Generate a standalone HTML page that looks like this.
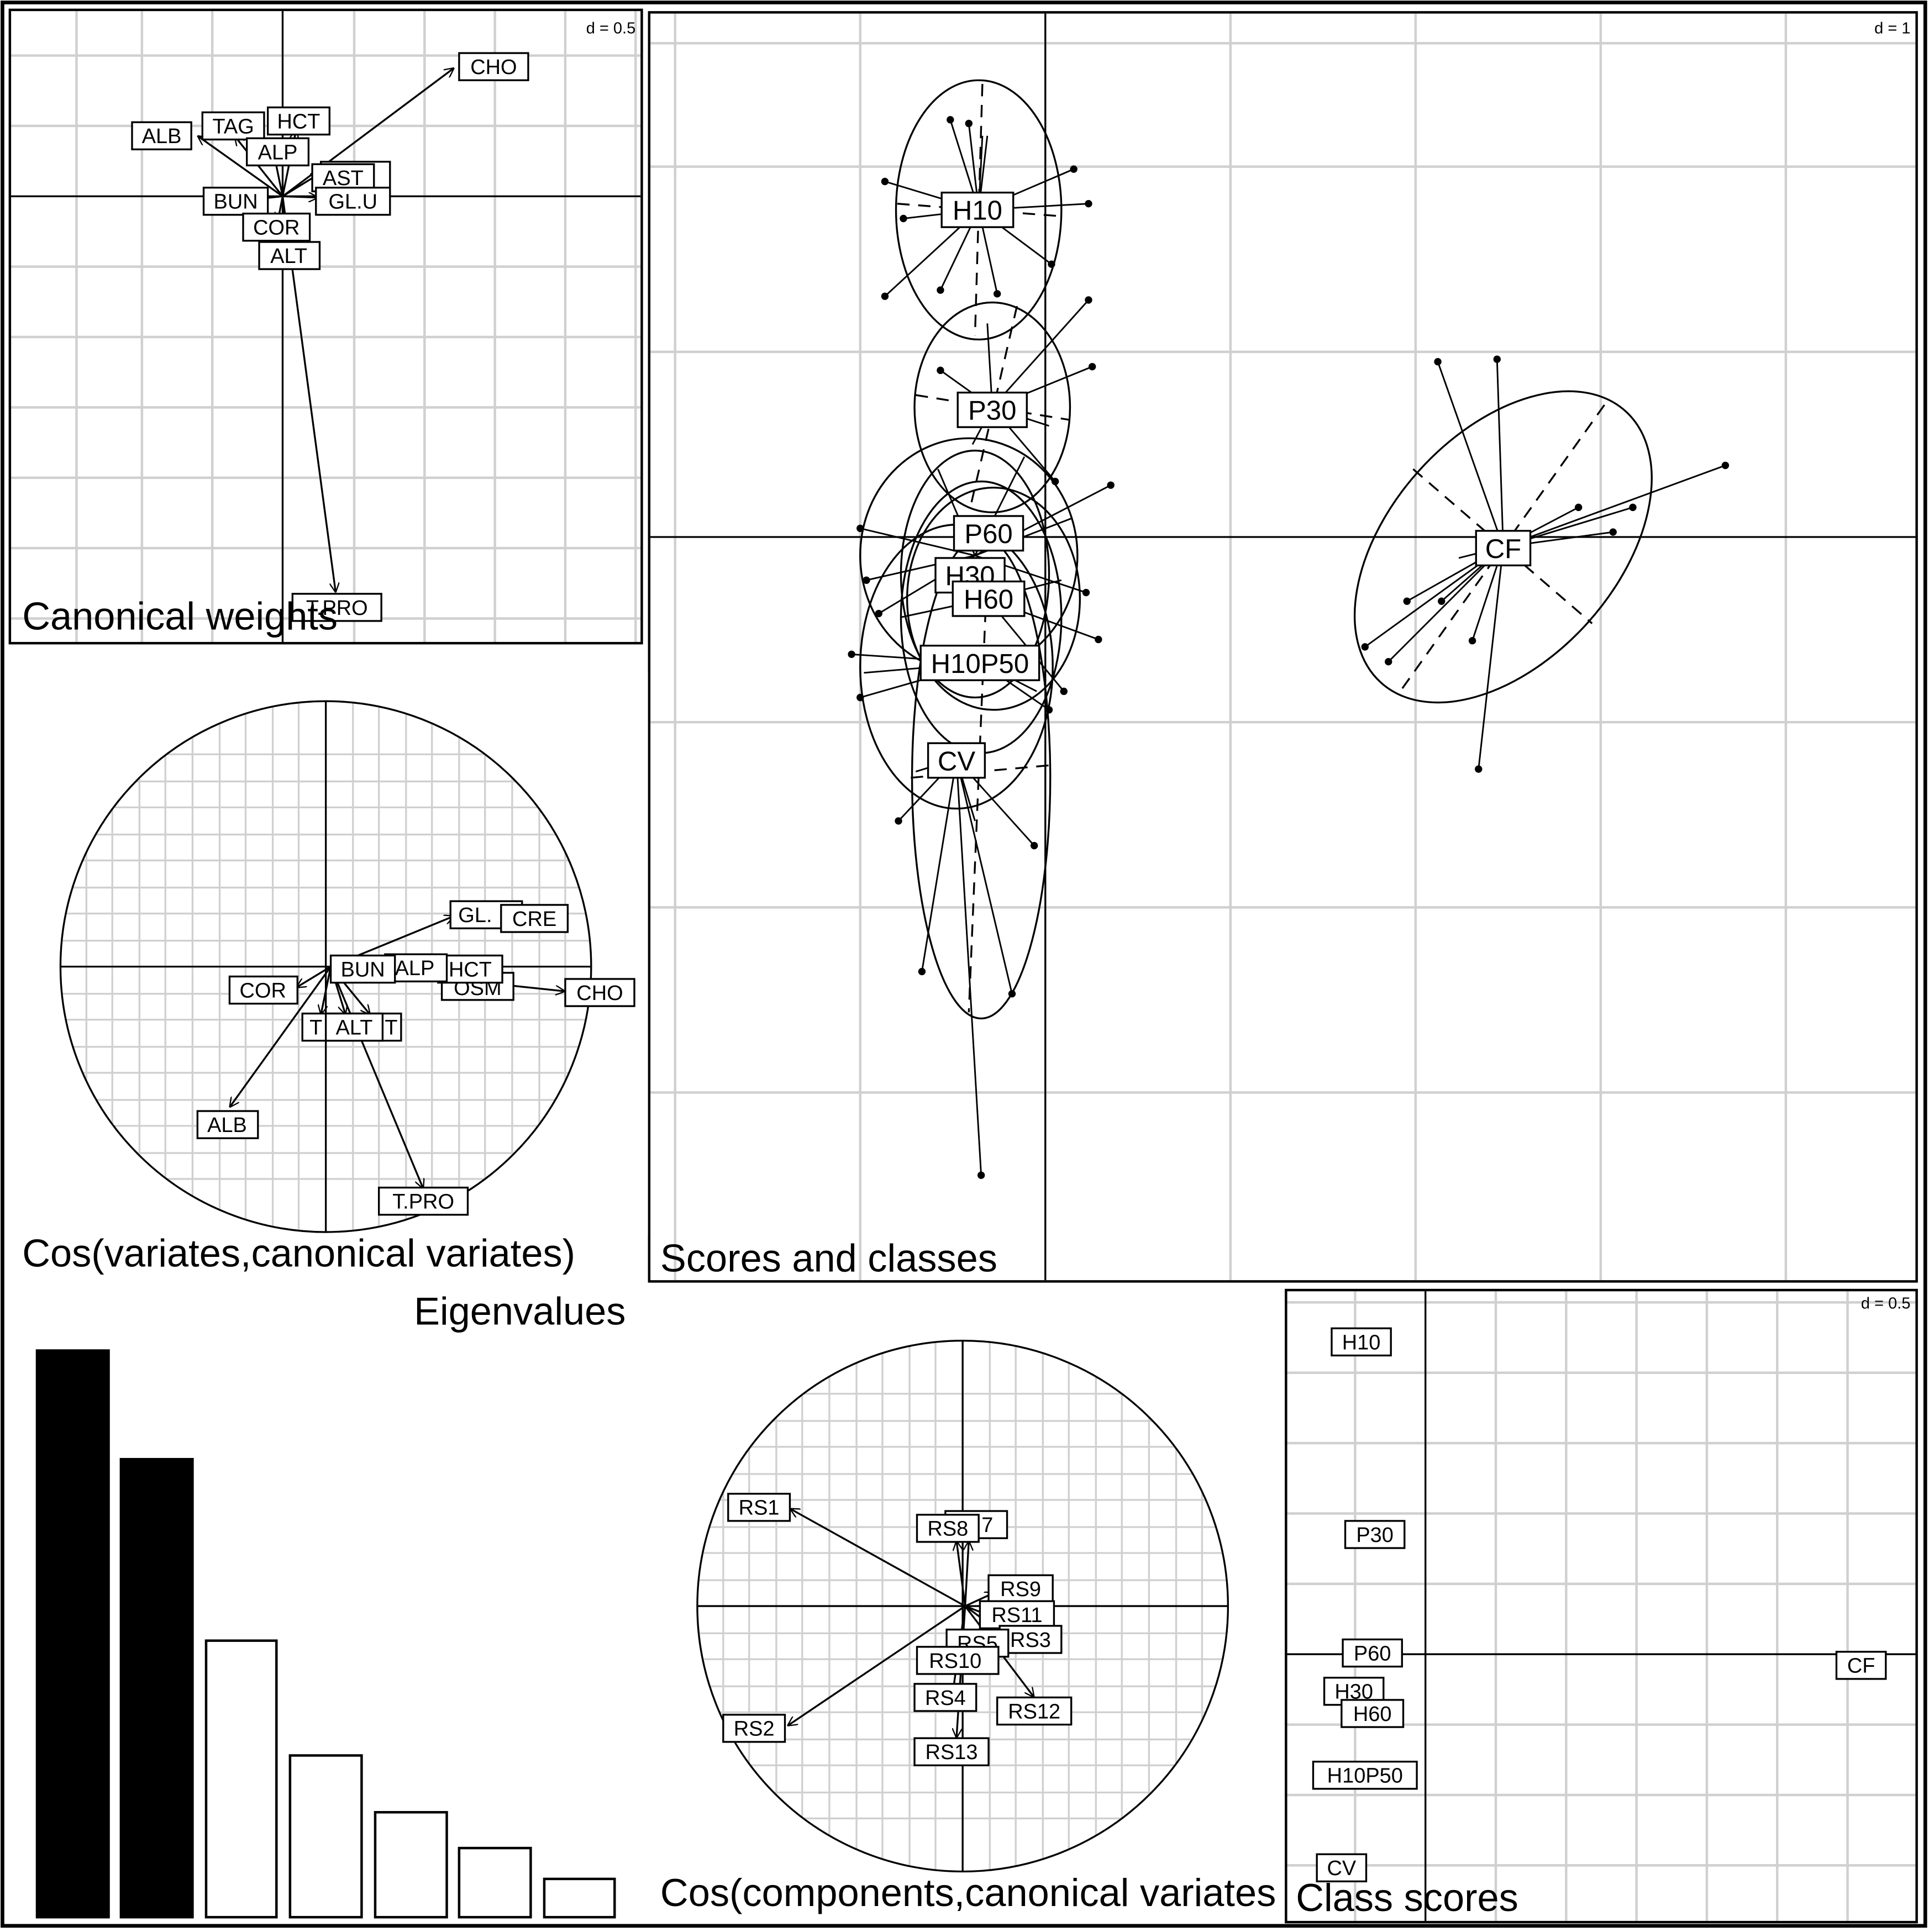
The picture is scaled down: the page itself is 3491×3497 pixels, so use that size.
<!DOCTYPE html>
<html><head><meta charset="utf-8"><style>
html,body{margin:0;padding:0;background:#fff}
svg{display:block}
text{font-family:"Liberation Sans",sans-serif;fill:#000}
</style></head><body>
<svg width="3491" height="3497" viewBox="0 0 1563 1565" preserveAspectRatio="none" xmlns="http://www.w3.org/2000/svg">
<defs>
<marker id="ah" viewBox="0 0 10 10" refX="10" refY="5" markerWidth="8" markerHeight="8" orient="auto" markerUnits="userSpaceOnUse"><path d="M0,0 L10,5 L0,10" fill="none" stroke="#000" stroke-width="1.3"/></marker>
</defs>
<rect x="0" y="0" width="1563" height="1565" fill="#fff"/>
<rect x="2" y="2" width="1558" height="1558" fill="none" stroke="#000" stroke-width="3"/>

<!-- Panel 1: Canonical weights -->
<g stroke="#d0d0d0" stroke-width="2">
<line x1="62" y1="9" x2="62" y2="520"/><line x1="115" y1="9" x2="115" y2="520"/><line x1="172" y1="9" x2="172" y2="520"/><line x1="287" y1="9" x2="287" y2="520"/><line x1="344" y1="9" x2="344" y2="520"/><line x1="401" y1="9" x2="401" y2="520"/><line x1="458" y1="9" x2="458" y2="520"/><line x1="515" y1="9" x2="515" y2="520"/>
<line x1="9" y1="45" x2="519" y2="45"/><line x1="9" y1="102" x2="519" y2="102"/><line x1="9" y1="216" x2="519" y2="216"/><line x1="9" y1="273" x2="519" y2="273"/><line x1="9" y1="330" x2="519" y2="330"/><line x1="9" y1="387" x2="519" y2="387"/><line x1="9" y1="444" x2="519" y2="444"/><line x1="9" y1="501" x2="519" y2="501"/>
</g>
<line x1="229" y1="9" x2="229" y2="520" stroke="#000" stroke-width="1.5"/>
<line x1="9" y1="159" x2="519" y2="159" stroke="#000" stroke-width="1.5"/>
<rect x="8" y="8" width="512" height="513" fill="none" stroke="#000" stroke-width="2"/>
<g stroke="#000" stroke-width="1.5" marker-end="url(#ah)">
<line x1="229" y1="159" x2="368" y2="55"/>
<line x1="229" y1="159" x2="160" y2="110"/>
<line x1="229" y1="159" x2="190" y2="110"/>
<line x1="229" y1="159" x2="240" y2="105"/>
<line x1="229" y1="159" x2="222" y2="125"/>
<line x1="229" y1="159" x2="260" y2="140"/>
<line x1="229" y1="159" x2="258" y2="160"/>
<line x1="229" y1="159" x2="200" y2="162"/>
<line x1="229" y1="159" x2="225" y2="180"/>
<line x1="229" y1="159" x2="233" y2="200"/>
<line x1="229" y1="159" x2="272" y2="480"/>
</g>
<g font-size="17" text-anchor="middle">
<rect x="372" y="43" width="56" height="22" fill="#fff" stroke="#000" stroke-width="1.5"/><text x="400" y="60">CHO</text>
<rect x="107" y="99" width="48" height="22" fill="#fff" stroke="#000" stroke-width="1.5"/><text x="131" y="116">ALB</text>
<rect x="164" y="91" width="50" height="22" fill="#fff" stroke="#000" stroke-width="1.5"/><text x="189" y="108">TAG</text>
<rect x="217" y="87" width="50" height="22" fill="#fff" stroke="#000" stroke-width="1.5"/><text x="242" y="104">HCT</text>
<rect x="200" y="112" width="50" height="22" fill="#fff" stroke="#000" stroke-width="1.5"/><text x="225" y="129">ALP</text>
<rect x="260" y="131" width="56" height="22" fill="#fff" stroke="#000" stroke-width="1.5"/><text x="295" y="148">E</text>
<rect x="253" y="133" width="50" height="22" fill="#fff" stroke="#000" stroke-width="1.5"/><text x="278" y="150">AST</text>
<rect x="256" y="152" width="60" height="22" fill="#fff" stroke="#000" stroke-width="1.5"/><text x="286" y="169">GL.U</text>
<rect x="165" y="152" width="52" height="22" fill="#fff" stroke="#000" stroke-width="1.5"/><text x="191" y="169">BUN</text>
<rect x="197" y="173" width="54" height="22" fill="#fff" stroke="#000" stroke-width="1.5"/><text x="224" y="190">COR</text>
<rect x="210" y="196" width="49" height="22" fill="#fff" stroke="#000" stroke-width="1.5"/><text x="234" y="213">ALT</text>
<rect x="237" y="481" width="72" height="22" fill="#fff" stroke="#000" stroke-width="1.5"/><text x="273" y="498">T.PRO</text>
</g>
<text x="515" y="27" font-size="13" text-anchor="end">d = 0.5</text>
<text x="18" y="510" font-size="31.5">Canonical weights</text>

<!-- Panel 2: Scores and classes -->
<g stroke="#d0d0d0" stroke-width="2">
<line x1="547" y1="11" x2="547" y2="1037"/><line x1="697" y1="11" x2="697" y2="1037"/><line x1="997" y1="11" x2="997" y2="1037"/><line x1="1147" y1="11" x2="1147" y2="1037"/><line x1="1297" y1="11" x2="1297" y2="1037"/><line x1="1447" y1="11" x2="1447" y2="1037"/>
<line x1="527" y1="135" x2="1552" y2="135"/><line x1="527" y1="285" x2="1552" y2="285"/><line x1="527" y1="585" x2="1552" y2="585"/><line x1="527" y1="735" x2="1552" y2="735"/><line x1="527" y1="885" x2="1552" y2="885"/><line x1="527" y1="35" x2="1552" y2="35"/>
</g>
<line x1="847" y1="11" x2="847" y2="1037" stroke="#000" stroke-width="1.5"/>
<line x1="527" y1="435" x2="1552" y2="435" stroke="#000" stroke-width="1.5"/>
<rect x="526" y="10" width="1027" height="1028" fill="none" stroke="#000" stroke-width="2"/>
<g fill="none" stroke="#000" stroke-width="1.5">
<ellipse cx="793" cy="170" rx="67" ry="105"/>
<ellipse cx="804" cy="330" rx="63" ry="85"/>
<ellipse cx="785" cy="450" rx="88" ry="95"/>
<ellipse cx="790" cy="465" rx="60" ry="100"/>
<ellipse cx="805" cy="485" rx="70" ry="90"/>
<ellipse cx="795" cy="500" rx="65" ry="110"/>
<ellipse cx="775" cy="540" rx="78" ry="115"/>
<ellipse cx="795" cy="630" rx="56" ry="195"/>
<ellipse cx="1218" cy="443" rx="148" ry="92" transform="rotate(-48 1218 443)"/>
</g>
<g fill="none" stroke="#000" stroke-width="1.5" stroke-dasharray="10,7">
<line x1="796" y1="68" x2="790" y2="272"/><line x1="727" y1="165" x2="858" y2="175"/>
<line x1="824" y1="248" x2="786" y2="412"/><line x1="742" y1="320" x2="866" y2="340"/>
<line x1="800" y1="460" x2="785" y2="820"/><line x1="738" y1="630" x2="850" y2="620"/>
<line x1="1300" y1="328" x2="1136" y2="558"/><line x1="1145" y1="380" x2="1290" y2="505"/>
</g>
<g stroke="#000" stroke-width="1.3">
<line x1="793" y1="170" x2="770" y2="97"/><line x1="793" y1="170" x2="785" y2="100"/><line x1="793" y1="170" x2="800" y2="110"/><line x1="793" y1="170" x2="870" y2="137"/><line x1="793" y1="170" x2="882" y2="165"/><line x1="793" y1="170" x2="717" y2="147"/><line x1="793" y1="170" x2="732" y2="177"/><line x1="793" y1="170" x2="717" y2="240"/><line x1="793" y1="170" x2="762" y2="235"/><line x1="793" y1="170" x2="808" y2="238"/><line x1="793" y1="170" x2="852" y2="214"/><line x1="793" y1="170" x2="796" y2="110"/>
<line x1="804" y1="330" x2="882" y2="243"/><line x1="804" y1="330" x2="885" y2="297"/><line x1="804" y1="330" x2="800" y2="262"/><line x1="804" y1="330" x2="762" y2="300"/><line x1="804" y1="330" x2="788" y2="360"/><line x1="804" y1="330" x2="850" y2="345"/><line x1="804" y1="330" x2="855" y2="390"/>
<line x1="790" y1="450" x2="697" y2="428"/><line x1="790" y1="450" x2="702" y2="470"/><line x1="790" y1="450" x2="712" y2="497"/><line x1="790" y1="450" x2="900" y2="393"/><line x1="790" y1="450" x2="868" y2="420"/><line x1="790" y1="450" x2="880" y2="480"/><line x1="790" y1="450" x2="760" y2="380"/><line x1="790" y1="450" x2="830" y2="370"/>
<line x1="800" y1="485" x2="890" y2="518"/><line x1="800" y1="485" x2="730" y2="500"/><line x1="800" y1="485" x2="862" y2="560"/><line x1="800" y1="485" x2="860" y2="470"/>
<line x1="795" y1="537" x2="690" y2="530"/><line x1="795" y1="537" x2="697" y2="565"/><line x1="795" y1="537" x2="850" y2="575"/><line x1="795" y1="537" x2="840" y2="560"/><line x1="795" y1="537" x2="700" y2="545"/>
<line x1="775" y1="615" x2="795" y2="952"/><line x1="775" y1="615" x2="747" y2="787"/><line x1="775" y1="615" x2="820" y2="805"/><line x1="775" y1="615" x2="838" y2="685"/><line x1="775" y1="615" x2="728" y2="665"/><line x1="775" y1="615" x2="742" y2="625"/><line x1="775" y1="615" x2="790" y2="665"/>
<line x1="1218" y1="443" x2="1165" y2="293"/><line x1="1218" y1="443" x2="1213" y2="291"/><line x1="1218" y1="443" x2="1398" y2="377"/><line x1="1218" y1="443" x2="1323" y2="411"/><line x1="1218" y1="443" x2="1307" y2="431"/><line x1="1218" y1="443" x2="1279" y2="411"/><line x1="1218" y1="443" x2="1106" y2="524"/><line x1="1218" y1="443" x2="1125" y2="536"/><line x1="1218" y1="443" x2="1140" y2="487"/><line x1="1218" y1="443" x2="1168" y2="487"/><line x1="1218" y1="443" x2="1193" y2="519"/><line x1="1218" y1="443" x2="1198" y2="623"/><line x1="1218" y1="443" x2="1182" y2="452"/>
</g>
<g fill="#000">
<circle cx="770" cy="97" r="3"/><circle cx="785" cy="100" r="3"/><circle cx="870" cy="137" r="3"/><circle cx="882" cy="165" r="3"/><circle cx="717" cy="147" r="3"/><circle cx="732" cy="177" r="3"/><circle cx="717" cy="240" r="3"/><circle cx="762" cy="235" r="3"/><circle cx="808" cy="238" r="3"/><circle cx="852" cy="214" r="3"/>
<circle cx="882" cy="243" r="3"/><circle cx="885" cy="297" r="3"/><circle cx="762" cy="300" r="3"/><circle cx="855" cy="390" r="3"/>
<circle cx="697" cy="428" r="3"/><circle cx="702" cy="470" r="3"/><circle cx="712" cy="497" r="3"/><circle cx="900" cy="393" r="3"/><circle cx="880" cy="480" r="3"/><circle cx="890" cy="518" r="3"/><circle cx="862" cy="560" r="3"/><circle cx="690" cy="530" r="3"/><circle cx="697" cy="565" r="3"/><circle cx="850" cy="575" r="3"/>
<circle cx="795" cy="952" r="3"/><circle cx="747" cy="787" r="3"/><circle cx="820" cy="805" r="3"/><circle cx="838" cy="685" r="3"/><circle cx="728" cy="665" r="3"/>
<circle cx="1165" cy="293" r="3"/><circle cx="1213" cy="291" r="3"/><circle cx="1398" cy="377" r="3"/><circle cx="1323" cy="411" r="3"/><circle cx="1307" cy="431" r="3"/><circle cx="1279" cy="411" r="3"/><circle cx="1106" cy="524" r="3"/><circle cx="1125" cy="536" r="3"/><circle cx="1140" cy="487" r="3"/><circle cx="1168" cy="487" r="3"/><circle cx="1193" cy="519" r="3"/><circle cx="1198" cy="623" r="3"/>
</g>
<g font-size="22" text-anchor="middle">
<rect x="763" y="156" width="58" height="28" fill="#fff" stroke="#000" stroke-width="1.5"/><text x="792" y="178">H10</text>
<rect x="776" y="318" width="56" height="28" fill="#fff" stroke="#000" stroke-width="1.5"/><text x="804" y="340">P30</text>
<rect x="773" y="418" width="56" height="28" fill="#fff" stroke="#000" stroke-width="1.5"/><text x="801" y="440">P60</text>
<rect x="758" y="452" width="56" height="28" fill="#fff" stroke="#000" stroke-width="1.5"/><text x="786" y="474">H30</text>
<rect x="772" y="471" width="58" height="28" fill="#fff" stroke="#000" stroke-width="1.5"/><text x="801" y="493">H60</text>
<rect x="746" y="523" width="96" height="28" fill="#fff" stroke="#000" stroke-width="1.5"/><text x="794" y="545">H10P50</text>
<rect x="752" y="602" width="46" height="28" fill="#fff" stroke="#000" stroke-width="1.5"/><text x="775" y="624">CV</text>
<rect x="1196" y="430" width="44" height="28" fill="#fff" stroke="#000" stroke-width="1.5"/><text x="1218" y="452">CF</text>
</g>
<text x="1548" y="27" font-size="13" text-anchor="end">d = 1</text>
<text x="535" y="1030" font-size="31.5">Scores and classes</text>

<!-- Panel 3: Cos(variates) -->
<g stroke="#d0d0d0" stroke-width="1.5">
<line x1="70" y1="600" x2="70" y2="966"/><line x1="91" y1="600" x2="91" y2="966"/><line x1="113" y1="590" x2="113" y2="976"/><line x1="134" y1="580" x2="134" y2="986"/><line x1="156" y1="575" x2="156" y2="991"/><line x1="178" y1="570" x2="178" y2="996"/><line x1="199" y1="568" x2="199" y2="998"/><line x1="221" y1="568" x2="221" y2="998"/><line x1="242" y1="568" x2="242" y2="998"/><line x1="286" y1="568" x2="286" y2="998"/><line x1="307" y1="568" x2="307" y2="998"/><line x1="329" y1="568" x2="329" y2="998"/><line x1="350" y1="570" x2="350" y2="996"/><line x1="372" y1="575" x2="372" y2="991"/><line x1="393" y1="580" x2="393" y2="986"/><line x1="415" y1="590" x2="415" y2="976"/><line x1="437" y1="600" x2="437" y2="966"/><line x1="458" y1="600" x2="458" y2="966"/>
<line x1="70" y1="611" x2="458" y2="611"/><line x1="60" y1="633" x2="468" y2="633"/><line x1="55" y1="654" x2="473" y2="654"/><line x1="50" y1="676" x2="478" y2="676"/><line x1="49" y1="697" x2="479" y2="697"/><line x1="49" y1="719" x2="479" y2="719"/><line x1="49" y1="740" x2="479" y2="740"/><line x1="49" y1="762" x2="479" y2="762"/><line x1="49" y1="805" x2="479" y2="805"/><line x1="49" y1="826" x2="479" y2="826"/><line x1="49" y1="848" x2="479" y2="848"/><line x1="49" y1="869" x2="479" y2="869"/><line x1="50" y1="891" x2="478" y2="891"/><line x1="55" y1="912" x2="473" y2="912"/><line x1="60" y1="934" x2="468" y2="934"/><line x1="70" y1="955" x2="458" y2="955"/>
</g>
<path d="M5,545 H525 V1000 H5 Z M264,568 A215,215 0 1 0 264.01,568 Z" fill="#fff" fill-rule="evenodd"/>
<circle cx="264" cy="783" r="215" fill="none" stroke="#000" stroke-width="1.5"/>
<line x1="264" y1="568" x2="264" y2="998" stroke="#000" stroke-width="1.5"/>
<line x1="49" y1="783" x2="479" y2="783" stroke="#000" stroke-width="1.5"/>
<g stroke="#000" stroke-width="1.5" marker-end="url(#ah)">
<line x1="268" y1="783" x2="368" y2="742"/>
<line x1="268" y1="783" x2="410" y2="795"/>
<line x1="268" y1="783" x2="458" y2="803"/>
<line x1="268" y1="783" x2="186" y2="897"/>
<line x1="268" y1="783" x2="343" y2="963"/>
<line x1="268" y1="783" x2="240" y2="800"/>
<line x1="268" y1="783" x2="260" y2="822"/>
<line x1="268" y1="783" x2="280" y2="822"/>
<line x1="268" y1="783" x2="300" y2="822"/>
</g>
<g font-size="17" text-anchor="middle">
<rect x="365" y="730" width="58" height="22" fill="#fff" stroke="#000" stroke-width="1.5"/><text x="385" y="747">GL.</text>
<rect x="406" y="733" width="54" height="22" fill="#fff" stroke="#000" stroke-width="1.5"/><text x="433" y="750">CRE</text>
<rect x="186" y="791" width="55" height="22" fill="#fff" stroke="#000" stroke-width="1.5"/><text x="213" y="808">COR</text>
<rect x="358" y="788" width="58" height="22" fill="#fff" stroke="#000" stroke-width="1.5"/><text x="387" y="806">OSM</text>
<rect x="355" y="774" width="52" height="22" fill="#fff" stroke="#000" stroke-width="1.5"/><text x="381" y="791">HCT</text>
<rect x="312" y="773" width="50" height="22" fill="#fff" stroke="#000" stroke-width="1.5"/><text x="336" y="790">ALP</text>
<rect x="268" y="774" width="52" height="22" fill="#fff" stroke="#000" stroke-width="1.5"/><text x="294" y="791">BUN</text>
<rect x="458" y="793" width="56" height="22" fill="#fff" stroke="#000" stroke-width="1.5"/><text x="486" y="810">CHO</text>
<rect x="245" y="821" width="80" height="22" fill="#fff" stroke="#000" stroke-width="1.5"/><text x="256" y="838">T</text><text x="317" y="838">T</text>
<rect x="264" y="821" width="46" height="22" fill="#fff" stroke="#000" stroke-width="1.5"/><text x="287" y="838">ALT</text>
<rect x="160" y="900" width="49" height="22" fill="#fff" stroke="#000" stroke-width="1.5"/><text x="184" y="917">ALB</text>
<rect x="307" y="962" width="72" height="22" fill="#fff" stroke="#000" stroke-width="1.5"/><text x="343" y="979">T.PRO</text>
</g>
<text x="18" y="1026" font-size="31.5">Cos(variates,canonical variates)</text>

<!-- Eigenvalues -->
<text x="507" y="1073" font-size="31.5" text-anchor="end">Eigenvalues</text>
<g stroke="#000" stroke-width="2">
<rect x="30" y="1094" width="58" height="459" fill="#000"/>
<rect x="98" y="1182" width="58" height="371" fill="#000"/>
<rect x="167" y="1329" width="57" height="224" fill="#fff"/>
<rect x="235" y="1422" width="58" height="131" fill="#fff"/>
<rect x="304" y="1468" width="58" height="85" fill="#fff"/>
<rect x="372" y="1497" width="58" height="56" fill="#fff"/>
<rect x="441" y="1522" width="57" height="31" fill="#fff"/>
</g>

<!-- Panel 5: Cos(components) -->
<g stroke="#d0d0d0" stroke-width="1.5">
<line x1="586" y1="1118" x2="586" y2="1484"/><line x1="607" y1="1118" x2="607" y2="1484"/><line x1="629" y1="1108" x2="629" y2="1494"/><line x1="650" y1="1098" x2="650" y2="1504"/><line x1="672" y1="1093" x2="672" y2="1509"/><line x1="694" y1="1088" x2="694" y2="1514"/><line x1="715" y1="1086" x2="715" y2="1516"/><line x1="737" y1="1086" x2="737" y2="1516"/><line x1="758" y1="1086" x2="758" y2="1516"/><line x1="802" y1="1086" x2="802" y2="1516"/><line x1="823" y1="1086" x2="823" y2="1516"/><line x1="845" y1="1086" x2="845" y2="1516"/><line x1="866" y1="1088" x2="866" y2="1514"/><line x1="888" y1="1093" x2="888" y2="1509"/><line x1="909" y1="1098" x2="909" y2="1504"/><line x1="931" y1="1108" x2="931" y2="1494"/><line x1="953" y1="1118" x2="953" y2="1484"/><line x1="974" y1="1118" x2="974" y2="1484"/>
<line x1="586" y1="1129" x2="974" y2="1129"/><line x1="576" y1="1151" x2="984" y2="1151"/><line x1="571" y1="1172" x2="989" y2="1172"/><line x1="566" y1="1194" x2="994" y2="1194"/><line x1="565" y1="1215" x2="995" y2="1215"/><line x1="565" y1="1237" x2="995" y2="1237"/><line x1="565" y1="1258" x2="995" y2="1258"/><line x1="565" y1="1280" x2="995" y2="1280"/><line x1="565" y1="1323" x2="995" y2="1323"/><line x1="565" y1="1344" x2="995" y2="1344"/><line x1="565" y1="1366" x2="995" y2="1366"/><line x1="565" y1="1387" x2="995" y2="1387"/><line x1="566" y1="1409" x2="994" y2="1409"/><line x1="571" y1="1430" x2="989" y2="1430"/><line x1="576" y1="1452" x2="984" y2="1452"/><line x1="586" y1="1473" x2="974" y2="1473"/>
</g>
<path d="M540,1075 H1040 V1530 H540 Z M780,1086 A215,215 0 1 0 780.01,1086 Z" fill="#fff" fill-rule="evenodd"/>
<circle cx="780" cy="1301" r="215" fill="none" stroke="#000" stroke-width="1.5"/>
<line x1="780" y1="1086" x2="780" y2="1516" stroke="#000" stroke-width="1.5"/>
<line x1="565" y1="1301" x2="995" y2="1301" stroke="#000" stroke-width="1.5"/>
<g stroke="#000" stroke-width="1.5" marker-end="url(#ah)">
<line x1="782" y1="1301" x2="640" y2="1222"/>
<line x1="782" y1="1301" x2="638" y2="1398"/>
<line x1="782" y1="1301" x2="775" y2="1248"/>
<line x1="782" y1="1301" x2="785" y2="1248"/>
<line x1="782" y1="1301" x2="806" y2="1290"/>
<line x1="782" y1="1301" x2="800" y2="1308"/>
<line x1="782" y1="1301" x2="838" y2="1375"/>
<line x1="782" y1="1301" x2="770" y2="1385"/>
<line x1="782" y1="1301" x2="775" y2="1408"/>
<line x1="782" y1="1301" x2="815" y2="1325"/>
</g>
<g font-size="17" text-anchor="middle">
<rect x="590" y="1210" width="50" height="22" fill="#fff" stroke="#000" stroke-width="1.5"/><text x="615" y="1227">RS1</text>
<rect x="586" y="1389" width="50" height="22" fill="#fff" stroke="#000" stroke-width="1.5"/><text x="611" y="1406">RS2</text>
<rect x="766" y="1224" width="50" height="22" fill="#fff" stroke="#000" stroke-width="1.5"/><text x="800" y="1241">7</text>
<rect x="743" y="1227" width="50" height="22" fill="#fff" stroke="#000" stroke-width="1.5"/><text x="768" y="1244">RS8</text>
<rect x="801" y="1276" width="52" height="22" fill="#fff" stroke="#000" stroke-width="1.5"/><text x="827" y="1293">RS9</text>
<rect x="794" y="1297" width="60" height="22" fill="#fff" stroke="#000" stroke-width="1.5"/><text x="824" y="1314">RS11</text>
<rect x="810" y="1317" width="50" height="22" fill="#fff" stroke="#000" stroke-width="1.5"/><text x="835" y="1334">RS3</text>
<rect x="767" y="1320" width="50" height="22" fill="#fff" stroke="#000" stroke-width="1.5"/><text x="792" y="1337">RS5</text>
<rect x="743" y="1334" width="66" height="22" fill="#fff" stroke="#000" stroke-width="1.5"/><text x="774" y="1351">RS10</text>
<rect x="741" y="1364" width="50" height="22" fill="#fff" stroke="#000" stroke-width="1.5"/><text x="766" y="1381">RS4</text>
<rect x="808" y="1375" width="60" height="22" fill="#fff" stroke="#000" stroke-width="1.5"/><text x="838" y="1392">RS12</text>
<rect x="741" y="1408" width="60" height="22" fill="#fff" stroke="#000" stroke-width="1.5"/><text x="771" y="1425">RS13</text>
</g>
<text x="535" y="1544" font-size="31.5">Cos(components,canonical variates</text>

<!-- Panel 6: Class scores -->
<rect x="1042" y="1045" width="511" height="512" fill="#fff"/>
<g stroke="#d0d0d0" stroke-width="2">
<line x1="1098" y1="1046" x2="1098" y2="1556"/><line x1="1212" y1="1046" x2="1212" y2="1556"/><line x1="1269" y1="1046" x2="1269" y2="1556"/><line x1="1326" y1="1046" x2="1326" y2="1556"/><line x1="1383" y1="1046" x2="1383" y2="1556"/><line x1="1440" y1="1046" x2="1440" y2="1556"/><line x1="1497" y1="1046" x2="1497" y2="1556"/>
<line x1="1043" y1="1055" x2="1552" y2="1055"/><line x1="1043" y1="1112" x2="1552" y2="1112"/><line x1="1043" y1="1169" x2="1552" y2="1169"/><line x1="1043" y1="1226" x2="1552" y2="1226"/><line x1="1043" y1="1283" x2="1552" y2="1283"/><line x1="1043" y1="1397" x2="1552" y2="1397"/><line x1="1043" y1="1454" x2="1552" y2="1454"/><line x1="1043" y1="1511" x2="1552" y2="1511"/>
</g>
<line x1="1155" y1="1046" x2="1155" y2="1556" stroke="#000" stroke-width="1.5"/>
<line x1="1043" y1="1340" x2="1552" y2="1340" stroke="#000" stroke-width="1.5"/>
<rect x="1042" y="1045" width="511" height="512" fill="none" stroke="#000" stroke-width="2"/>
<g font-size="17" text-anchor="middle">
<rect x="1079" y="1076" width="48" height="22" fill="#fff" stroke="#000" stroke-width="1.5"/><text x="1103" y="1093">H10</text>
<rect x="1090" y="1232" width="48" height="22" fill="#fff" stroke="#000" stroke-width="1.5"/><text x="1114" y="1249">P30</text>
<rect x="1088" y="1328" width="48" height="22" fill="#fff" stroke="#000" stroke-width="1.5"/><text x="1112" y="1345">P60</text>
<rect x="1073" y="1359" width="48" height="22" fill="#fff" stroke="#000" stroke-width="1.5"/><text x="1097" y="1376">H30</text>
<rect x="1087" y="1377" width="50" height="22" fill="#fff" stroke="#000" stroke-width="1.5"/><text x="1112" y="1394">H60</text>
<rect x="1064" y="1427" width="84" height="22" fill="#fff" stroke="#000" stroke-width="1.5"/><text x="1106" y="1444">H10P50</text>
<rect x="1067" y="1502" width="40" height="22" fill="#fff" stroke="#000" stroke-width="1.5"/><text x="1087" y="1519">CV</text>
<rect x="1488" y="1338" width="40" height="22" fill="#fff" stroke="#000" stroke-width="1.5"/><text x="1508" y="1355">CF</text>
</g>
<text x="1548" y="1060" font-size="13" text-anchor="end">d = 0.5</text>
<text x="1050" y="1548" font-size="31.5">Class scores</text>
</svg>
</body></html>
